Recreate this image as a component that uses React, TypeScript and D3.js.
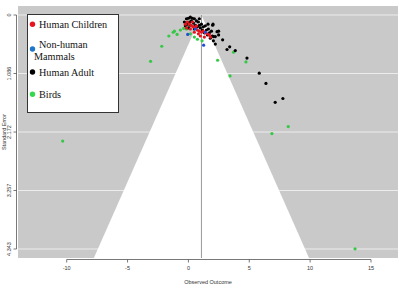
import React from "react";
import * as d3 from "d3";

// [observed outcome, standard error]
const birds: [number, number][] = [
  [-10.33, 2.34], [13.69, 4.34], [6.86, 2.2], [8.2, 2.07], [3.42, 1.13],
  [4.73, 0.87], [3.71, 0.69], [2.4, 0.84], [-3.11, 0.86], [-2.19, 0.58],
  [-1.61, 0.39], [-1.25, 0.32], [-0.93, 0.36], [-0.66, 0.28], [-0.39, 0.25],
  [-1.15, 0.3], [0.16, 0.35], [0.49, 0.41], [0.74, 0.45], [1.12, 0.48],
  [-0.16, 0.26],
];

const humanAdult: [number, number][] = [
  [-0.16, 0.07], [0.0, 0.06], [0.16, 0.04], [0.33, 0.06], [0.49, 0.07],
  [0.25, 0.11], [0.08, 0.13], [-0.08, 0.17], [-0.25, 0.2], [0.41, 0.15],
  [0.66, 0.11], [0.82, 0.13], [0.57, 0.19], [0.9, 0.19], [1.07, 0.17],
  [0.74, 0.22], [0.98, 0.24], [1.23, 0.22], [1.39, 0.2], [1.15, 0.28],
  [1.48, 0.28], [1.64, 0.26], [1.31, 0.33], [1.72, 0.33], [1.89, 0.3],
  [1.56, 0.37], [1.97, 0.39], [0.16, 0.19], [0.0, 0.24], [0.49, 0.26],
  [-0.33, 0.13], [0.9, 0.07], [1.61, 0.17], [2.02, 0.17], [2.48, 0.3],
  [2.21, 0.4], [1.8, 0.43], [2.05, 0.48],
  [1.99, 0.19], [2.35, 0.31], [2.48, 0.37], [2.81, 0.46], [2.07, 0.4],
  [2.21, 0.54], [3.17, 0.64], [3.39, 0.59], [3.85, 0.66], [4.81, 0.8],
  [5.82, 1.08], [6.37, 1.27], [7.13, 1.62], [7.76, 1.55],
];

const humanChildren: [number, number][] = [
  [-0.08, 0.13], [0.08, 0.17], [0.25, 0.2], [0.41, 0.22], [0.57, 0.24],
  [0.74, 0.28], [0.9, 0.3], [1.07, 0.32], [1.23, 0.3], [1.39, 0.33],
  [1.56, 0.35], [1.72, 0.37], [-0.16, 0.24], [0.16, 0.26], [0.49, 0.32],
  [0.82, 0.35], [0.98, 0.39], [-0.25, 0.17], [0.33, 0.13], [0.66, 0.2],
  [1.8, 0.41], [1.31, 0.41],
];

const nonHumanMammals: [number, number][] = [
  [-0.06, 0.36], [1.25, 0.56], [0.57, 0.26], [1.39, 0.32],
];

const xTicks = [-10, -5, 0, 5, 10, 15];
const yTicks = [0, 1.086, 2.172, 3.257, 4.343];
const yTickLabels = ["0", "1.086", "2.172", "3.257", "4.343"];
const summaryEstimate = 1.07;

const legendItems = [
  { label: ["Human Children"], color: "#e8141c" },
  { label: ["Non-human", "Mammals"], color: "#1f77c9" },
  { label: ["Human Adult"], color: "#000000" },
  { label: ["Birds"], color: "#35d84a" },
];

const W = 405;
const H = 289;
const plotLeft = 18;
const plotRight = 398;
const plotTop = 6;
const plotBottom = 258;

export default function App() {
  const xScale = d3.scaleLinear().domain([-10, 15]).range([66.7, 371]);
  const yScale = d3.scaleLinear().domain([0, 4.343]).range([15, 249]);

  const seBottom = yScale.invert(plotBottom);
  const funnel: [number, number][] = [
    [summaryEstimate - 1.96 * seBottom, seBottom],
    [summaryEstimate, 0],
    [summaryEstimate + 1.96 * seBottom, seBottom],
  ];
  const funnelPath = d3
    .line<[number, number]>()
    .x((d) => xScale(d[0]))
    .y((d) => yScale(d[1]))(funnel) + "Z";

  const groups = [
    { data: birds, color: "#35c845" },
    { data: humanAdult, color: "#000000" },
    { data: humanChildren, color: "#e8141c" },
    { data: nonHumanMammals, color: "#1f4fd9" },
  ];

  const fontAxis = "'Liberation Sans', Arial, sans-serif";
  const fontLegend = "'Liberation Serif', 'Times New Roman', serif";

  return (
    <svg
      width={W}
      height={H}
      style={{ position: "absolute", left: 0, top: 0, background: "#fff" }}
    >
      {/* panel */}
      <rect
        x={plotLeft}
        y={plotTop}
        width={plotRight - plotLeft}
        height={plotBottom - plotTop}
        fill="#c9c9c9"
      />
      {/* horizontal gridlines */}
      {yTicks.map((t) => (
        <line
          key={t}
          x1={plotLeft}
          x2={plotRight}
          y1={yScale(t)}
          y2={yScale(t)}
          stroke="#ececec"
          strokeWidth={1}
        />
      ))}
      {/* funnel */}
      <path d={funnelPath} fill="#ffffff" />
      {/* reference line */}
      <line
        x1={xScale(summaryEstimate)}
        x2={xScale(summaryEstimate)}
        y1={yScale(0)}
        y2={plotBottom}
        stroke="#9a9a9a"
        strokeWidth={1}
      />

      {/* points */}
      {groups.map((g, gi) => (
        <g key={gi}>
          {g.data.map((d, i) => (
            <circle
              key={i}
              cx={xScale(d[0])}
              cy={yScale(d[1])}
              r={1.6}
              fill={g.color}
            />
          ))}
        </g>
      ))}

      {/* x axis */}
      <line
        x1={xScale(-10)}
        x2={xScale(15)}
        y1={259.5}
        y2={259.5}
        stroke="#555"
        strokeWidth={0.8}
      />
      {xTicks.map((t) => (
        <g key={t}>
          <line
            x1={xScale(t)}
            x2={xScale(t)}
            y1={259.5}
            y2={262.5}
            stroke="#555"
            strokeWidth={0.8}
          />
          <text
            x={xScale(t)}
            y={270}
            fontSize={5.5}
            fontFamily={fontAxis}
            textAnchor="middle"
            fill="#333"
          >
            {t}
          </text>
        </g>
      ))}
      <text
        x={(plotLeft + plotRight) / 2}
        y={284}
        fontSize={5.5}
        fontFamily={fontAxis}
        textAnchor="middle"
        fill="#333"
      >
        Observed Outcome
      </text>

      {/* y axis */}
      <line
        x1={16.5}
        x2={16.5}
        y1={yScale(0)}
        y2={yScale(4.343)}
        stroke="#555"
        strokeWidth={0.8}
      />
      {yTicks.map((t, i) => (
        <g key={t}>
          <line
            x1={13.5}
            x2={16.5}
            y1={yScale(t)}
            y2={yScale(t)}
            stroke="#555"
            strokeWidth={0.8}
          />
          <text
            transform={`translate(11, ${yScale(t)}) rotate(-90)`}
            fontSize={5.5}
            fontFamily={fontAxis}
            textAnchor="middle"
            fill="#333"
          >
            {yTickLabels[i]}
          </text>
        </g>
      ))}
      <text
        transform={`translate(5.5, ${yScale(2.172)}) rotate(-90)`}
        fontSize={5.5}
        fontFamily={fontAxis}
        textAnchor="middle"
        fill="#333"
      >
        Standard Error
      </text>

      {/* legend */}
      <rect
        x={27.5}
        y={14.5}
        width={91}
        height={98}
        fill="#fff"
        stroke="#333"
        strokeWidth={1}
      />
      {legendItems.map((item, i) => {
        const cy = [24.3, 49, 72, 94.3][i];
        return (
          <g key={i}>
            <circle cx={32.5} cy={cy} r={2.7} fill={item.color} />
            {item.label.length === 1 ? (
              <text
                x={39}
                y={cy + 3.6}
                fontSize={10.2}
                fontFamily={fontLegend}
                fill="#111"
              >
                {item.label[0]}
              </text>
            ) : (
              <>
                <text
                  x={39}
                  y={cy - 1.5}
                  fontSize={10.2}
                  fontFamily={fontLegend}
                  fill="#111"
                >
                  {item.label[0]}
                </text>
                <text
                  x={34}
                  y={cy + 10.5}
                  fontSize={10.2}
                  fontFamily={fontLegend}
                  fill="#111"
                >
                  {item.label[1]}
                </text>
              </>
            )}
          </g>
        );
      })}
    </svg>
  );
}
